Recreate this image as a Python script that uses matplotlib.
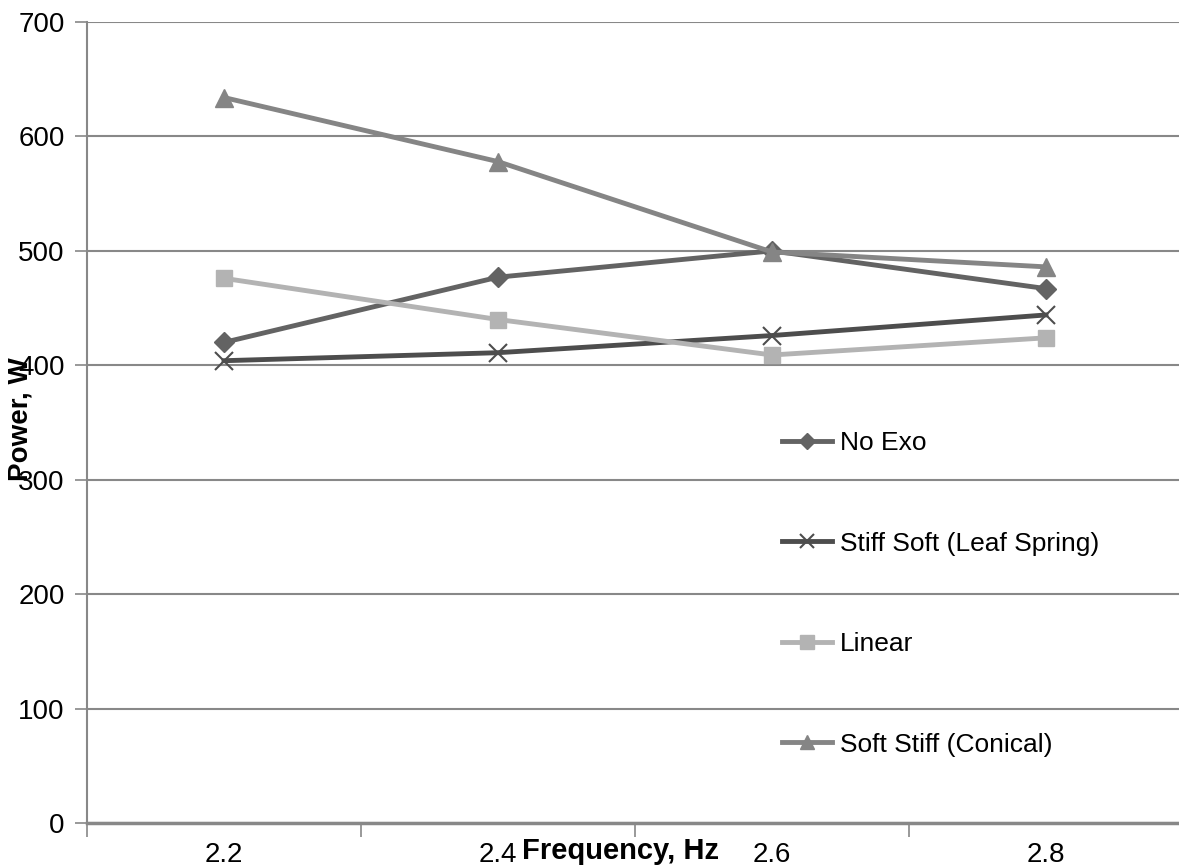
import matplotlib.pyplot as plt

plt.rcParams['font.family'] = ['Liberation Sans', 'DejaVu Sans']

# data
freq = ['2.2', '2.4', '2.6', '2.8']
no_exo = [420, 477, 500, 467]
stiff_soft = [404, 411, 426, 444]
linear = [476, 440, 409, 424]
soft_stiff = [634, 578, 499, 486]

fig = plt.figure(figsize=(11.79, 8.67), dpi=100)
ax = fig.add_axes([87 / 1179, 1 - 823 / 867, 1096 / 1179, 801 / 867])

x = range(len(freq))
ax.plot(x, no_exo, color='#636363', lw=3.5, marker='D', ms=10, label='No Exo')
ax.plot(x, stiff_soft, color='#4d4d4d', lw=3.5, marker='x', ms=13, mew=1.5, label='Stiff Soft (Leaf Spring)')
ax.plot(x, linear, color='#b3b3b3', lw=3.5, marker='s', ms=12, label='Linear')
ax.plot(x, soft_stiff, color='#858585', lw=3.5, marker='^', ms=13, label='Soft Stiff (Conical)')

ax.set_xlim(-0.5, 3.5)
ax.set_ylim(0, 700)
ax.set_yticks(range(0, 701, 100))
ax.set_xticks([-0.5, 0.5, 1.5, 2.5, 3.5])
ax.set_xticklabels([])
ax.set_xticks(list(x), minor=True)
ax.set_xticklabels(freq, minor=True)
ax.tick_params(axis='x', which='major', length=10, color='#888888', width=1.2, direction='out')
ax.tick_params(axis='x', which='minor', length=0, labelsize=20, pad=14)
ax.tick_params(axis='y', length=9, color='#888888', width=1.2, labelsize=20, pad=7)

ax.grid(axis='y', color='#888888', lw=1.5)
ax.set_axisbelow(True)
for s in ['top', 'right']:
    ax.spines[s].set_visible(False)
ax.spines['left'].set_color('#888888')
ax.spines['left'].set_linewidth(1.5)
ax.spines['bottom'].set_color('#888888')
ax.spines['bottom'].set_linewidth(2.5)

fig.text(621 / 1179, 1 - 851 / 867, 'Frequency, Hz', fontsize=21, fontweight='bold', ha='center', va='center')
fig.text(21 / 1179, 1 - 419 / 867, 'Power, W', fontsize=20, fontweight='bold', ha='center', va='center', rotation=90)

fig.legend(loc='upper left', bbox_to_anchor=(782 / 1179, 1 - 431 / 867), frameon=False,
           fontsize=19, labelspacing=2.9, handlelength=1.9, handletextpad=0.3,
           borderpad=0, borderaxespad=0, markerscale=0.8)

plt.savefig('out.png', dpi=100)
